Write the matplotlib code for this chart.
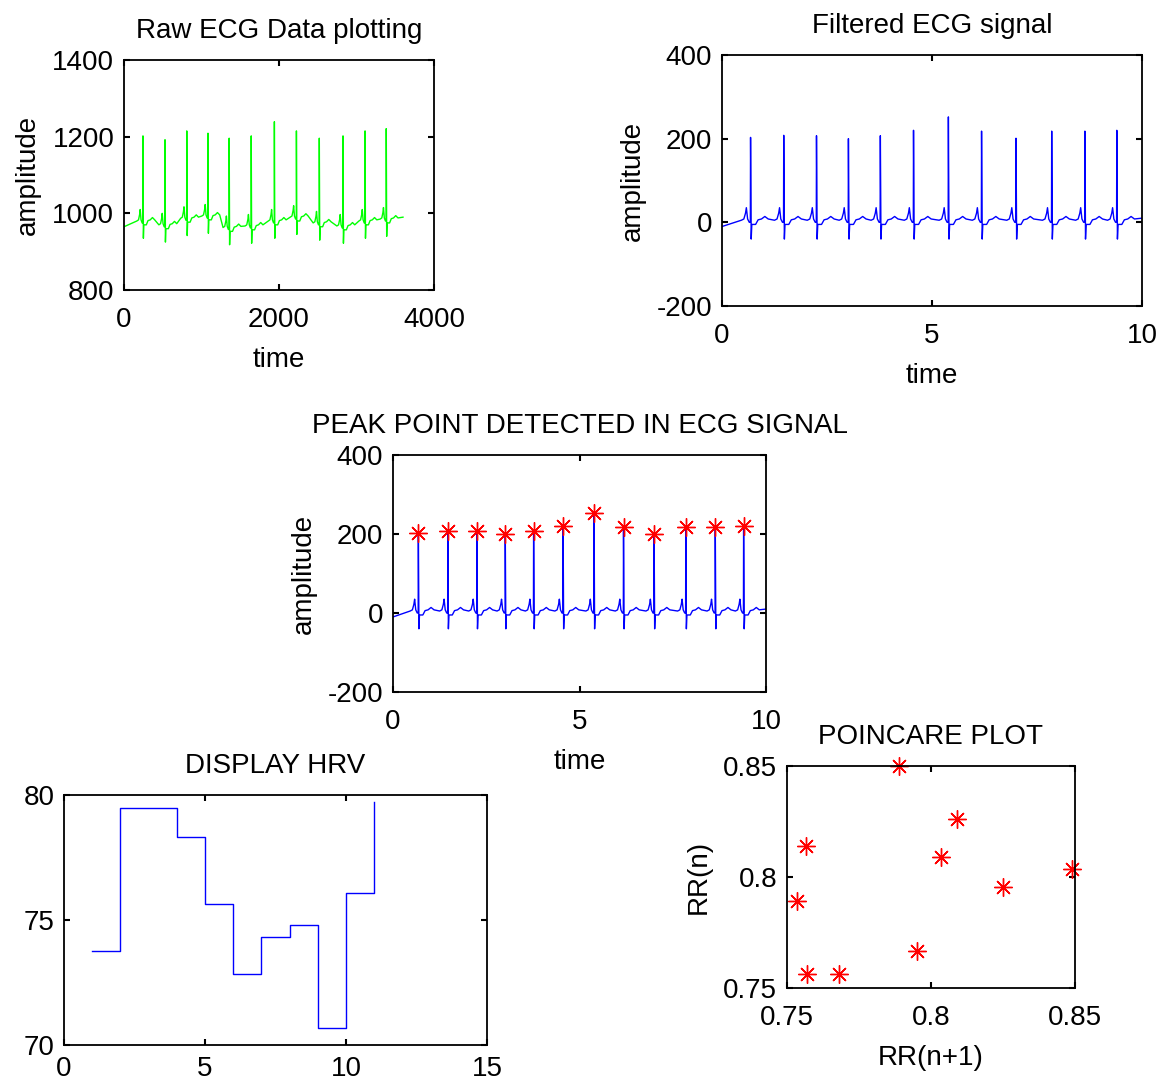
import numpy as np
import matplotlib
matplotlib.use("Agg")
import matplotlib.pyplot as plt
from matplotlib.ticker import FuncFormatter

plt.rcParams["font.family"] = ["Liberation Sans", "DejaVu Sans"]
plt.rcParams["font.size"] = 20
plt.rcParams["axes.unicode_minus"] = False

# R peak times (s) and amplitudes
peak_t = [0.68, 1.47, 2.25, 3.01, 3.77, 4.56, 5.39, 6.18, 7.00, 7.85, 8.64, 9.40]
peak_filt = [203, 208, 207, 200, 207, 220, 252, 218, 201, 218, 218, 220]
peak_raw = [1202, 1192, 1215, 1209, 1196, 1202, 1239, 1215, 1196, 1202, 1215, 1221]
raw_base = [975, 965, 982, 988, 958, 962, 975, 985, 970, 962, 975, 980]

# one beat around the R peak: offset (s) and level relative to baseline
beat_dt = [-0.22, -0.16, -0.12, -0.10, -0.07, -0.03, -0.005, 0.0, 0.015, 0.03, 0.12, 0.18, 0.26, 0.34, 0.42]
beat_v = [5, 8, 22, 35, 8, 0, 0, None, -40, -5, -5, 6, 8, 14, 8]

fs = 360
sig_start = (0.0, -10)
sig_end = (10.0, 10)

# HRV (bpm) for beats 1..11
hrv_x = [1, 2, 3, 4, 5, 6, 7, 8, 9, 10, 11]
hrv_y = [73.77, 79.47, 79.47, 78.33, 75.64, 72.85, 74.33, 74.8, 70.7, 76.1, 79.73]

# Poincare points
rr_n1 = [0.789, 0.809, 0.7565, 0.8035, 0.849, 0.825, 0.7534, 0.795, 0.757, 0.768]
rr_n = [0.850, 0.826, 0.814, 0.809, 0.8036, 0.7953, 0.789, 0.7668, 0.7563, 0.7563]


def build(peaks, base):
    t = [sig_start[0]]
    v = [base[0] + sig_start[1] if base is not None else sig_start[1]]
    for i, tp in enumerate(peak_t):
        b = base[i] if base is not None else 0
        for dt, dv in zip(beat_dt, beat_v):
            t.append(tp + dt)
            v.append(peaks[i] if dv is None else b + dv)
    t.append(sig_end[0])
    v.append((base[-1] if base is not None else 0) + sig_end[1])
    return np.array(t), np.array(v)


def style(ax, xpad=12):
    ax.tick_params(direction="in", top=True, right=True, length=4, width=1.5)
    ax.tick_params(axis="x", pad=xpad)
    ax.tick_params(axis="y", pad=7)
    for s in ax.spines.values():
        s.set_linewidth(1.3)


fmt = FuncFormatter(lambda v, p: "%g" % round(v, 4))

fig = plt.figure(figsize=(11.62, 10.83), dpi=100)
W, H = 1162.0, 1083.0


def box(l, r, t, b):
    return fig.add_axes([l / W, 1 - b / H, (r - l) / W, (b - t) / H])


TPAD = 16
XLP = 10

# raw
ax = box(124, 434, 60, 290)
t, v = build(peak_raw, raw_base)
ax.plot(t * fs, v, color="#00ff00", lw=1)
ax.set_xlim(0, 4000)
ax.set_ylim(800, 1400)
ax.set_xticks([0, 2000, 4000])
ax.set_yticks([800, 1000, 1200, 1400])
ax.set_title("Raw ECG Data plotting", fontsize=20, pad=TPAD)
ax.set_xlabel("time", labelpad=XLP)
ax.set_ylabel("amplitude", labelpad=8)
style(ax)

# filtered
ax = box(722, 1142, 55, 306)
t, v = build(peak_filt, None)
ax.plot(t, v, color="blue", lw=1)
ax.set_xlim(0, 10)
ax.set_ylim(-200, 400)
ax.set_xticks([0, 5, 10])
ax.set_yticks([-200, 0, 200, 400])
ax.set_title("Filtered ECG signal", fontsize=20, pad=TPAD)
ax.set_xlabel("time", labelpad=XLP)
ax.set_ylabel("amplitude", labelpad=8)
style(ax)

# peaks
ax = box(393, 766, 455, 692)
ax.plot(t, v, color="blue", lw=1)
ax.plot(peak_t, peak_filt, ls="none", marker=(8, 2, 0), ms=13, mec="red", mew=1)
ax.set_xlim(0, 10)
ax.set_ylim(-200, 400)
ax.set_xticks([0, 5, 10])
ax.set_yticks([-200, 0, 200, 400])
ax.set_title("PEAK POINT DETECTED IN ECG SIGNAL", fontsize=20, pad=TPAD)
ax.set_xlabel("time", labelpad=XLP)
ax.set_ylabel("amplitude", labelpad=8)
style(ax)

# HRV
ax = box(64, 487, 795, 1045)
ax.step(hrv_x, hrv_y, where="post", color="blue", lw=1)
ax.set_xlim(0, 15)
ax.set_ylim(70, 80)
ax.set_xticks([0, 5, 10, 15])
ax.set_yticks([70, 75, 80])
ax.set_title("DISPLAY HRV", fontsize=20, pad=TPAD)
style(ax, xpad=8)

# Poincare
ax = box(787, 1075, 766, 988)
ax.plot(rr_n1, rr_n, ls="none", marker=(8, 2, 0), ms=13, mec="red", mew=1, clip_on=False)
ax.set_xlim(0.75, 0.85)
ax.set_ylim(0.75, 0.85)
ax.set_xticks([0.75, 0.8, 0.85])
ax.set_yticks([0.75, 0.8, 0.85])
ax.xaxis.set_major_formatter(fmt)
ax.yaxis.set_major_formatter(fmt)
ax.set_title("POINCARE PLOT", fontsize=20, pad=TPAD)
ax.set_xlabel("RR(n+1)", labelpad=XLP)
ax.set_ylabel("RR(n)", labelpad=8)
style(ax)

fig.savefig("out.png", dpi=100)
